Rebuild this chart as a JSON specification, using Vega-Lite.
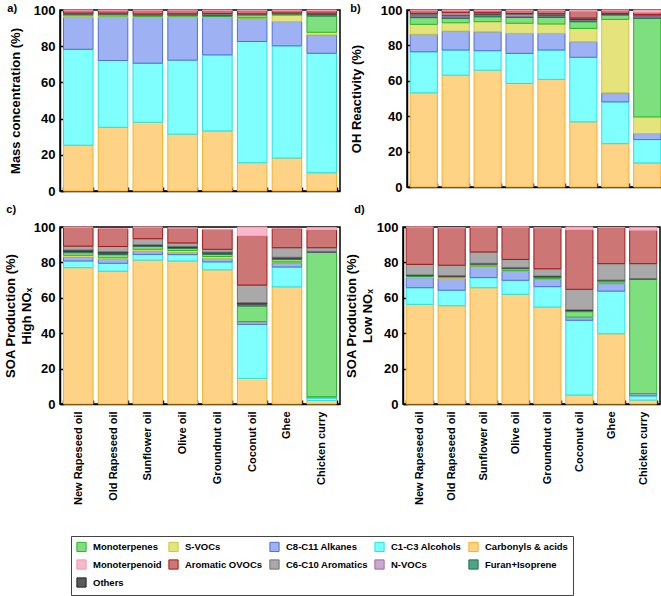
{
  "$schema": "https://vega.github.io/schema/vega-lite/v6.json",
  "padding": {"left": 3, "top": 2, "right": 2, "bottom": 2},
  "config": {
    "font": "Liberation Sans",
    "view": {"stroke": "black", "strokeWidth": 1.5},
    "axis": {
      "labelFont": "Liberation Sans", "labelFontWeight": "bold", "labelColor": "black", "labelFontSize": 13,
      "titleFont": "Liberation Sans", "titleFontWeight": "bold", "titleColor": "black", "titleFontSize": 13,
      "domainColor": "black", "domainWidth": 1.5, "tickColor": "black", "tickWidth": 1.5, "tickSize": -4,
      "grid": false
    },
    "axisY": {"labelPadding": 9, "titleLineHeight": 16},
    "title": {"font": "Liberation Sans", "fontSize": 11, "fontWeight": "bold", "anchor": "start", "frame": "bounds", "color": "black"},
    "legend": {
      "gridAlign": "each",
      "symbolType": "square", "symbolSize": 85, "symbolStrokeWidth": 1,
      "labelFont": "Liberation Sans", "labelFontSize": 9.5, "labelFontWeight": "bold", "labelColor": "black",
      "labelOffset": 6, "columnPadding": 4, "rowPadding": 3, "padding": 5,
      "strokeColor": "#444444", "strokeWidth": 1
    }
  },
  "datasets": {
    "a": [
      {"food":"New Rapeseed oil","group":"Carbonyls & acids","value":25.3},{"food":"New Rapeseed oil","group":"C1-C3 Alcohols","value":53.0},{"food":"New Rapeseed oil","group":"C8-C11 Alkanes","value":17.7},{"food":"New Rapeseed oil","group":"S-VOCs","value":0.8},{"food":"New Rapeseed oil","group":"Monoterpenes","value":0.8},{"food":"New Rapeseed oil","group":"Furan+Isoprene","value":0.3},{"food":"New Rapeseed oil","group":"N-VOCs","value":0.1},{"food":"New Rapeseed oil","group":"Others","value":0.1},{"food":"New Rapeseed oil","group":"C6-C10 Aromatics","value":0.2},{"food":"New Rapeseed oil","group":"Aromatic OVOCs","value":1.5},{"food":"New Rapeseed oil","group":"Monoterpenoid","value":0.2},
      {"food":"Old Rapeseed oil","group":"Carbonyls & acids","value":35.2},{"food":"Old Rapeseed oil","group":"C1-C3 Alcohols","value":36.9},{"food":"Old Rapeseed oil","group":"C8-C11 Alkanes","value":23.9},{"food":"Old Rapeseed oil","group":"S-VOCs","value":0.7},{"food":"Old Rapeseed oil","group":"Monoterpenes","value":0.9},{"food":"Old Rapeseed oil","group":"Furan+Isoprene","value":0.3},{"food":"Old Rapeseed oil","group":"N-VOCs","value":0.1},{"food":"Old Rapeseed oil","group":"Others","value":0.1},{"food":"Old Rapeseed oil","group":"C6-C10 Aromatics","value":0.2},{"food":"Old Rapeseed oil","group":"Aromatic OVOCs","value":1.5},{"food":"Old Rapeseed oil","group":"Monoterpenoid","value":0.2},
      {"food":"Sunflower oil","group":"Carbonyls & acids","value":38.0},{"food":"Sunflower oil","group":"C1-C3 Alcohols","value":32.6},{"food":"Sunflower oil","group":"C8-C11 Alkanes","value":25.4},{"food":"Sunflower oil","group":"S-VOCs","value":0.5},{"food":"Sunflower oil","group":"Monoterpenes","value":0.7},{"food":"Sunflower oil","group":"Furan+Isoprene","value":0.2},{"food":"Sunflower oil","group":"N-VOCs","value":0.1},{"food":"Sunflower oil","group":"Others","value":0.1},{"food":"Sunflower oil","group":"C6-C10 Aromatics","value":0.2},{"food":"Sunflower oil","group":"Aromatic OVOCs","value":2.0},{"food":"Sunflower oil","group":"Monoterpenoid","value":0.2},
      {"food":"Olive oil","group":"Carbonyls & acids","value":31.4},{"food":"Olive oil","group":"C1-C3 Alcohols","value":40.9},{"food":"Olive oil","group":"C8-C11 Alkanes","value":23.7},{"food":"Olive oil","group":"S-VOCs","value":0.6},{"food":"Olive oil","group":"Monoterpenes","value":0.6},{"food":"Olive oil","group":"Furan+Isoprene","value":0.2},{"food":"Olive oil","group":"N-VOCs","value":0.1},{"food":"Olive oil","group":"Others","value":0.1},{"food":"Olive oil","group":"C6-C10 Aromatics","value":0.3},{"food":"Olive oil","group":"Aromatic OVOCs","value":1.9},{"food":"Olive oil","group":"Monoterpenoid","value":0.2},
      {"food":"Groundnut oil","group":"Carbonyls & acids","value":33.2},{"food":"Groundnut oil","group":"C1-C3 Alcohols","value":42.0},{"food":"Groundnut oil","group":"C8-C11 Alkanes","value":20.8},{"food":"Groundnut oil","group":"S-VOCs","value":0.5},{"food":"Groundnut oil","group":"Monoterpenes","value":0.3},{"food":"Groundnut oil","group":"Furan+Isoprene","value":0.3},{"food":"Groundnut oil","group":"N-VOCs","value":0.2},{"food":"Groundnut oil","group":"Others","value":0.1},{"food":"Groundnut oil","group":"C6-C10 Aromatics","value":0.7},{"food":"Groundnut oil","group":"Aromatic OVOCs","value":1.5},{"food":"Groundnut oil","group":"Monoterpenoid","value":0.4},
      {"food":"Coconut oil","group":"Carbonyls & acids","value":15.6},{"food":"Coconut oil","group":"C1-C3 Alcohols","value":67.0},{"food":"Coconut oil","group":"C8-C11 Alkanes","value":12.8},{"food":"Coconut oil","group":"S-VOCs","value":0.3},{"food":"Coconut oil","group":"Monoterpenes","value":1.6},{"food":"Coconut oil","group":"Furan+Isoprene","value":0.2},{"food":"Coconut oil","group":"N-VOCs","value":0.1},{"food":"Coconut oil","group":"Others","value":0.1},{"food":"Coconut oil","group":"C6-C10 Aromatics","value":0.2},{"food":"Coconut oil","group":"Aromatic OVOCs","value":1.8},{"food":"Coconut oil","group":"Monoterpenoid","value":0.3},
      {"food":"Ghee","group":"Carbonyls & acids","value":18.2},{"food":"Ghee","group":"C1-C3 Alcohols","value":62.0},{"food":"Ghee","group":"C8-C11 Alkanes","value":13.4},{"food":"Ghee","group":"S-VOCs","value":3.6},{"food":"Ghee","group":"Monoterpenes","value":0.6},{"food":"Ghee","group":"Furan+Isoprene","value":0.2},{"food":"Ghee","group":"N-VOCs","value":0.1},{"food":"Ghee","group":"Others","value":0.1},{"food":"Ghee","group":"C6-C10 Aromatics","value":0.2},{"food":"Ghee","group":"Aromatic OVOCs","value":1.4},{"food":"Ghee","group":"Monoterpenoid","value":0.2},
      {"food":"Chicken curry","group":"Carbonyls & acids","value":10.1},{"food":"Chicken curry","group":"C1-C3 Alcohols","value":66.0},{"food":"Chicken curry","group":"C8-C11 Alkanes","value":10.1},{"food":"Chicken curry","group":"S-VOCs","value":1.5},{"food":"Chicken curry","group":"Monoterpenes","value":9.0},{"food":"Chicken curry","group":"Furan+Isoprene","value":0.6},{"food":"Chicken curry","group":"N-VOCs","value":0.4},{"food":"Chicken curry","group":"Others","value":0.1},{"food":"Chicken curry","group":"C6-C10 Aromatics","value":0.5},{"food":"Chicken curry","group":"Aromatic OVOCs","value":1.2},{"food":"Chicken curry","group":"Monoterpenoid","value":0.5}
    ],
    "b": [
      {"food":"New Rapeseed oil","group":"Carbonyls & acids","value":53.2},{"food":"New Rapeseed oil","group":"C1-C3 Alcohols","value":23.2},{"food":"New Rapeseed oil","group":"C8-C11 Alkanes","value":9.9},{"food":"New Rapeseed oil","group":"S-VOCs","value":5.6},{"food":"New Rapeseed oil","group":"Monoterpenes","value":3.8},{"food":"New Rapeseed oil","group":"Furan+Isoprene","value":0.8},{"food":"New Rapeseed oil","group":"N-VOCs","value":0.8},{"food":"New Rapeseed oil","group":"Others","value":0.2},{"food":"New Rapeseed oil","group":"C6-C10 Aromatics","value":0.6},{"food":"New Rapeseed oil","group":"Aromatic OVOCs","value":1.6},{"food":"New Rapeseed oil","group":"Monoterpenoid","value":0.3},
      {"food":"Old Rapeseed oil","group":"Carbonyls & acids","value":63.2},{"food":"Old Rapeseed oil","group":"C1-C3 Alcohols","value":14.2},{"food":"Old Rapeseed oil","group":"C8-C11 Alkanes","value":10.7},{"food":"Old Rapeseed oil","group":"S-VOCs","value":4.7},{"food":"Old Rapeseed oil","group":"Monoterpenes","value":2.5},{"food":"Old Rapeseed oil","group":"Furan+Isoprene","value":1.0},{"food":"Old Rapeseed oil","group":"N-VOCs","value":0.6},{"food":"Old Rapeseed oil","group":"Others","value":0.2},{"food":"Old Rapeseed oil","group":"C6-C10 Aromatics","value":1.4},{"food":"Old Rapeseed oil","group":"Aromatic OVOCs","value":1.3},{"food":"Old Rapeseed oil","group":"Monoterpenoid","value":0.2},
      {"food":"Sunflower oil","group":"Carbonyls & acids","value":66.0},{"food":"Sunflower oil","group":"C1-C3 Alcohols","value":11.0},{"food":"Sunflower oil","group":"C8-C11 Alkanes","value":10.7},{"food":"Sunflower oil","group":"S-VOCs","value":5.7},{"food":"Sunflower oil","group":"Monoterpenes","value":2.8},{"food":"Sunflower oil","group":"Furan+Isoprene","value":1.0},{"food":"Sunflower oil","group":"N-VOCs","value":0.5},{"food":"Sunflower oil","group":"Others","value":0.2},{"food":"Sunflower oil","group":"C6-C10 Aromatics","value":0.6},{"food":"Sunflower oil","group":"Aromatic OVOCs","value":1.2},{"food":"Sunflower oil","group":"Monoterpenoid","value":0.3},
      {"food":"Olive oil","group":"Carbonyls & acids","value":58.5},{"food":"Olive oil","group":"C1-C3 Alcohols","value":17.0},{"food":"Olive oil","group":"C8-C11 Alkanes","value":11.3},{"food":"Olive oil","group":"S-VOCs","value":5.7},{"food":"Olive oil","group":"Monoterpenes","value":3.3},{"food":"Olive oil","group":"Furan+Isoprene","value":0.6},{"food":"Olive oil","group":"N-VOCs","value":1.0},{"food":"Olive oil","group":"Others","value":0.1},{"food":"Olive oil","group":"C6-C10 Aromatics","value":0.5},{"food":"Olive oil","group":"Aromatic OVOCs","value":1.7},{"food":"Olive oil","group":"Monoterpenoid","value":0.3},
      {"food":"Groundnut oil","group":"Carbonyls & acids","value":60.8},{"food":"Groundnut oil","group":"C1-C3 Alcohols","value":16.6},{"food":"Groundnut oil","group":"C8-C11 Alkanes","value":9.4},{"food":"Groundnut oil","group":"S-VOCs","value":5.3},{"food":"Groundnut oil","group":"Monoterpenes","value":3.7},{"food":"Groundnut oil","group":"Furan+Isoprene","value":0.8},{"food":"Groundnut oil","group":"N-VOCs","value":0.6},{"food":"Groundnut oil","group":"Others","value":0.2},{"food":"Groundnut oil","group":"C6-C10 Aromatics","value":0.5},{"food":"Groundnut oil","group":"Aromatic OVOCs","value":1.8},{"food":"Groundnut oil","group":"Monoterpenoid","value":0.3},
      {"food":"Coconut oil","group":"Carbonyls & acids","value":36.8},{"food":"Coconut oil","group":"C1-C3 Alcohols","value":36.5},{"food":"Coconut oil","group":"C8-C11 Alkanes","value":8.8},{"food":"Coconut oil","group":"S-VOCs","value":7.5},{"food":"Coconut oil","group":"Monoterpenes","value":3.8},{"food":"Coconut oil","group":"Furan+Isoprene","value":0.9},{"food":"Coconut oil","group":"N-VOCs","value":0.4},{"food":"Coconut oil","group":"Others","value":0.3},{"food":"Coconut oil","group":"C6-C10 Aromatics","value":0.5},{"food":"Coconut oil","group":"Aromatic OVOCs","value":3.8},{"food":"Coconut oil","group":"Monoterpenoid","value":0.7},
      {"food":"Ghee","group":"Carbonyls & acids","value":24.5},{"food":"Ghee","group":"C1-C3 Alcohols","value":23.6},{"food":"Ghee","group":"C8-C11 Alkanes","value":5.1},{"food":"Ghee","group":"S-VOCs","value":41.5},{"food":"Ghee","group":"Monoterpenes","value":2.5},{"food":"Ghee","group":"Furan+Isoprene","value":0.3},{"food":"Ghee","group":"N-VOCs","value":0.2},{"food":"Ghee","group":"Others","value":0.1},{"food":"Ghee","group":"C6-C10 Aromatics","value":0.3},{"food":"Ghee","group":"Aromatic OVOCs","value":1.7},{"food":"Ghee","group":"Monoterpenoid","value":0.2},
      {"food":"Chicken curry","group":"Carbonyls & acids","value":13.6},{"food":"Chicken curry","group":"C1-C3 Alcohols","value":13.2},{"food":"Chicken curry","group":"C8-C11 Alkanes","value":3.4},{"food":"Chicken curry","group":"S-VOCs","value":9.4},{"food":"Chicken curry","group":"Monoterpenes","value":55.7},{"food":"Chicken curry","group":"Furan+Isoprene","value":0.9},{"food":"Chicken curry","group":"N-VOCs","value":0.6},{"food":"Chicken curry","group":"Others","value":0.2},{"food":"Chicken curry","group":"C6-C10 Aromatics","value":0.4},{"food":"Chicken curry","group":"Aromatic OVOCs","value":1.3},{"food":"Chicken curry","group":"Monoterpenoid","value":1.3}
    ],
    "c": [
      {"food":"New Rapeseed oil","group":"Carbonyls & acids","value":77.0},{"food":"New Rapeseed oil","group":"C1-C3 Alcohols","value":3.8},{"food":"New Rapeseed oil","group":"C8-C11 Alkanes","value":2.2},{"food":"New Rapeseed oil","group":"S-VOCs","value":1.0},{"food":"New Rapeseed oil","group":"Monoterpenes","value":1.5},{"food":"New Rapeseed oil","group":"Furan+Isoprene","value":0.5},{"food":"New Rapeseed oil","group":"N-VOCs","value":0.3},{"food":"New Rapeseed oil","group":"Others","value":0.7},{"food":"New Rapeseed oil","group":"C6-C10 Aromatics","value":2.2},{"food":"New Rapeseed oil","group":"Aromatic OVOCs","value":10.6},{"food":"New Rapeseed oil","group":"Monoterpenoid","value":0.2},
      {"food":"Old Rapeseed oil","group":"Carbonyls & acids","value":75.0},{"food":"Old Rapeseed oil","group":"C1-C3 Alcohols","value":4.5},{"food":"Old Rapeseed oil","group":"C8-C11 Alkanes","value":2.3},{"food":"Old Rapeseed oil","group":"S-VOCs","value":0.8},{"food":"Old Rapeseed oil","group":"Monoterpenes","value":1.8},{"food":"Old Rapeseed oil","group":"Furan+Isoprene","value":0.6},{"food":"Old Rapeseed oil","group":"N-VOCs","value":0.3},{"food":"Old Rapeseed oil","group":"Others","value":0.7},{"food":"Old Rapeseed oil","group":"C6-C10 Aromatics","value":3.0},{"food":"Old Rapeseed oil","group":"Aromatic OVOCs","value":10.0},{"food":"Old Rapeseed oil","group":"Monoterpenoid","value":0.1},
      {"food":"Sunflower oil","group":"Carbonyls & acids","value":81.3},{"food":"Sunflower oil","group":"C1-C3 Alcohols","value":3.2},{"food":"Sunflower oil","group":"C8-C11 Alkanes","value":1.9},{"food":"Sunflower oil","group":"S-VOCs","value":1.0},{"food":"Sunflower oil","group":"Monoterpenes","value":1.6},{"food":"Sunflower oil","group":"Furan+Isoprene","value":0.4},{"food":"Sunflower oil","group":"N-VOCs","value":0.2},{"food":"Sunflower oil","group":"Others","value":0.3},{"food":"Sunflower oil","group":"C6-C10 Aromatics","value":3.5},{"food":"Sunflower oil","group":"Aromatic OVOCs","value":6.4},{"food":"Sunflower oil","group":"Monoterpenoid","value":0.2},
      {"food":"Olive oil","group":"Carbonyls & acids","value":80.8},{"food":"Olive oil","group":"C1-C3 Alcohols","value":3.6},{"food":"Olive oil","group":"C8-C11 Alkanes","value":1.3},{"food":"Olive oil","group":"S-VOCs","value":1.0},{"food":"Olive oil","group":"Monoterpenes","value":1.3},{"food":"Olive oil","group":"Furan+Isoprene","value":0.4},{"food":"Olive oil","group":"N-VOCs","value":0.2},{"food":"Olive oil","group":"Others","value":0.4},{"food":"Olive oil","group":"C6-C10 Aromatics","value":2.0},{"food":"Olive oil","group":"Aromatic OVOCs","value":8.3},{"food":"Olive oil","group":"Monoterpenoid","value":0.2},
      {"food":"Groundnut oil","group":"Carbonyls & acids","value":75.8},{"food":"Groundnut oil","group":"C1-C3 Alcohols","value":4.5},{"food":"Groundnut oil","group":"C8-C11 Alkanes","value":2.0},{"food":"Groundnut oil","group":"S-VOCs","value":1.0},{"food":"Groundnut oil","group":"Monoterpenes","value":1.3},{"food":"Groundnut oil","group":"Furan+Isoprene","value":0.4},{"food":"Groundnut oil","group":"N-VOCs","value":0.3},{"food":"Groundnut oil","group":"Others","value":0.5},{"food":"Groundnut oil","group":"C6-C10 Aromatics","value":1.6},{"food":"Groundnut oil","group":"Aromatic OVOCs","value":11.2},{"food":"Groundnut oil","group":"Monoterpenoid","value":0.1},
      {"food":"Coconut oil","group":"Carbonyls & acids","value":14.5},{"food":"Coconut oil","group":"C1-C3 Alcohols","value":30.5},{"food":"Coconut oil","group":"C8-C11 Alkanes","value":1.4},{"food":"Coconut oil","group":"S-VOCs","value":0.2},{"food":"Coconut oil","group":"Monoterpenes","value":8.8},{"food":"Coconut oil","group":"Furan+Isoprene","value":0.8},{"food":"Coconut oil","group":"N-VOCs","value":0.3},{"food":"Coconut oil","group":"Others","value":0.7},{"food":"Coconut oil","group":"C6-C10 Aromatics","value":10.0},{"food":"Coconut oil","group":"Aromatic OVOCs","value":27.7},{"food":"Coconut oil","group":"Monoterpenoid","value":5.1},
      {"food":"Ghee","group":"Carbonyls & acids","value":66.2},{"food":"Ghee","group":"C1-C3 Alcohols","value":11.2},{"food":"Ghee","group":"C8-C11 Alkanes","value":2.3},{"food":"Ghee","group":"S-VOCs","value":0.5},{"food":"Ghee","group":"Monoterpenes","value":1.6},{"food":"Ghee","group":"Furan+Isoprene","value":0.4},{"food":"Ghee","group":"N-VOCs","value":0.2},{"food":"Ghee","group":"Others","value":0.5},{"food":"Ghee","group":"C6-C10 Aromatics","value":5.4},{"food":"Ghee","group":"Aromatic OVOCs","value":10.7},{"food":"Ghee","group":"Monoterpenoid","value":0.2},
      {"food":"Chicken curry","group":"Carbonyls & acids","value":2.0},{"food":"Chicken curry","group":"C1-C3 Alcohols","value":1.5},{"food":"Chicken curry","group":"C8-C11 Alkanes","value":0.5},{"food":"Chicken curry","group":"S-VOCs","value":0.1},{"food":"Chicken curry","group":"Monoterpenes","value":81.6},{"food":"Chicken curry","group":"Furan+Isoprene","value":0.2},{"food":"Chicken curry","group":"N-VOCs","value":0.1},{"food":"Chicken curry","group":"Others","value":0.2},{"food":"Chicken curry","group":"C6-C10 Aromatics","value":2.1},{"food":"Chicken curry","group":"Aromatic OVOCs","value":10.0},{"food":"Chicken curry","group":"Monoterpenoid","value":1.4}
    ],
    "d": [
      {"food":"New Rapeseed oil","group":"Carbonyls & acids","value":56.3},{"food":"New Rapeseed oil","group":"C1-C3 Alcohols","value":9.4},{"food":"New Rapeseed oil","group":"C8-C11 Alkanes","value":5.7},{"food":"New Rapeseed oil","group":"S-VOCs","value":0.6},{"food":"New Rapeseed oil","group":"Monoterpenes","value":0.4},{"food":"New Rapeseed oil","group":"Furan+Isoprene","value":0.2},{"food":"New Rapeseed oil","group":"N-VOCs","value":0.1},{"food":"New Rapeseed oil","group":"Others","value":0.2},{"food":"New Rapeseed oil","group":"C6-C10 Aromatics","value":6.0},{"food":"New Rapeseed oil","group":"Aromatic OVOCs","value":21.0},{"food":"New Rapeseed oil","group":"Monoterpenoid","value":0.1},
      {"food":"Old Rapeseed oil","group":"Carbonyls & acids","value":55.5},{"food":"Old Rapeseed oil","group":"C1-C3 Alcohols","value":8.8},{"food":"Old Rapeseed oil","group":"C8-C11 Alkanes","value":6.7},{"food":"Old Rapeseed oil","group":"S-VOCs","value":0.6},{"food":"Old Rapeseed oil","group":"Monoterpenes","value":0.5},{"food":"Old Rapeseed oil","group":"Furan+Isoprene","value":0.1},{"food":"Old Rapeseed oil","group":"N-VOCs","value":0.1},{"food":"Old Rapeseed oil","group":"Others","value":0.2},{"food":"Old Rapeseed oil","group":"C6-C10 Aromatics","value":5.9},{"food":"Old Rapeseed oil","group":"Aromatic OVOCs","value":21.0},{"food":"Old Rapeseed oil","group":"Monoterpenoid","value":0.2},
      {"food":"Sunflower oil","group":"Carbonyls & acids","value":65.7},{"food":"Sunflower oil","group":"C1-C3 Alcohols","value":5.7},{"food":"Sunflower oil","group":"C8-C11 Alkanes","value":6.4},{"food":"Sunflower oil","group":"S-VOCs","value":0.2},{"food":"Sunflower oil","group":"Monoterpenes","value":0.9},{"food":"Sunflower oil","group":"Furan+Isoprene","value":0.3},{"food":"Sunflower oil","group":"N-VOCs","value":0.1},{"food":"Sunflower oil","group":"Others","value":0.2},{"food":"Sunflower oil","group":"C6-C10 Aromatics","value":6.4},{"food":"Sunflower oil","group":"Aromatic OVOCs","value":14.0},{"food":"Sunflower oil","group":"Monoterpenoid","value":0.1},
      {"food":"Olive oil","group":"Carbonyls & acids","value":62.0},{"food":"Olive oil","group":"C1-C3 Alcohols","value":7.9},{"food":"Olive oil","group":"C8-C11 Alkanes","value":5.2},{"food":"Olive oil","group":"S-VOCs","value":0.4},{"food":"Olive oil","group":"Monoterpenes","value":1.0},{"food":"Olive oil","group":"Furan+Isoprene","value":0.3},{"food":"Olive oil","group":"N-VOCs","value":0.1},{"food":"Olive oil","group":"Others","value":0.2},{"food":"Olive oil","group":"C6-C10 Aromatics","value":4.6},{"food":"Olive oil","group":"Aromatic OVOCs","value":18.2},{"food":"Olive oil","group":"Monoterpenoid","value":0.1},
      {"food":"Groundnut oil","group":"Carbonyls & acids","value":54.8},{"food":"Groundnut oil","group":"C1-C3 Alcohols","value":11.5},{"food":"Groundnut oil","group":"C8-C11 Alkanes","value":4.3},{"food":"Groundnut oil","group":"S-VOCs","value":0.2},{"food":"Groundnut oil","group":"Monoterpenes","value":0.8},{"food":"Groundnut oil","group":"Furan+Isoprene","value":0.3},{"food":"Groundnut oil","group":"N-VOCs","value":0.1},{"food":"Groundnut oil","group":"Others","value":0.3},{"food":"Groundnut oil","group":"C6-C10 Aromatics","value":4.1},{"food":"Groundnut oil","group":"Aromatic OVOCs","value":23.0},{"food":"Groundnut oil","group":"Monoterpenoid","value":0.2},
      {"food":"Coconut oil","group":"Carbonyls & acids","value":5.1},{"food":"Coconut oil","group":"C1-C3 Alcohols","value":42.2},{"food":"Coconut oil","group":"C8-C11 Alkanes","value":1.5},{"food":"Coconut oil","group":"S-VOCs","value":0.3},{"food":"Coconut oil","group":"Monoterpenes","value":3.1},{"food":"Coconut oil","group":"Furan+Isoprene","value":0.3},{"food":"Coconut oil","group":"N-VOCs","value":0.3},{"food":"Coconut oil","group":"Others","value":0.4},{"food":"Coconut oil","group":"C6-C10 Aromatics","value":11.6},{"food":"Coconut oil","group":"Aromatic OVOCs","value":33.5},{"food":"Coconut oil","group":"Monoterpenoid","value":1.7},
      {"food":"Ghee","group":"Carbonyls & acids","value":39.7},{"food":"Ghee","group":"C1-C3 Alcohols","value":24.1},{"food":"Ghee","group":"C8-C11 Alkanes","value":4.2},{"food":"Ghee","group":"S-VOCs","value":0.3},{"food":"Ghee","group":"Monoterpenes","value":1.2},{"food":"Ghee","group":"Furan+Isoprene","value":0.3},{"food":"Ghee","group":"N-VOCs","value":0.1},{"food":"Ghee","group":"Others","value":0.1},{"food":"Ghee","group":"C6-C10 Aromatics","value":9.3},{"food":"Ghee","group":"Aromatic OVOCs","value":20.3},{"food":"Ghee","group":"Monoterpenoid","value":0.1},
      {"food":"Chicken curry","group":"Carbonyls & acids","value":2.2},{"food":"Chicken curry","group":"C1-C3 Alcohols","value":2.4},{"food":"Chicken curry","group":"C8-C11 Alkanes","value":1.2},{"food":"Chicken curry","group":"S-VOCs","value":0.1},{"food":"Chicken curry","group":"Monoterpenes","value":64.6},{"food":"Chicken curry","group":"Furan+Isoprene","value":0.2},{"food":"Chicken curry","group":"N-VOCs","value":0.1},{"food":"Chicken curry","group":"Others","value":0.1},{"food":"Chicken curry","group":"C6-C10 Aromatics","value":8.4},{"food":"Chicken curry","group":"Aromatic OVOCs","value":18.8},{"food":"Chicken curry","group":"Monoterpenoid","value":1.7}
    ]
  },
  "vconcat": [
    {
      "spacing": 8,
      "hconcat": [
        {
          "data": {"name": "a"},
          "transform": [{"calculate": "indexof(['Carbonyls & acids','C1-C3 Alcohols','C8-C11 Alkanes','S-VOCs','Monoterpenes','Furan+Isoprene','N-VOCs','Others','C6-C10 Aromatics','Aromatic OVOCs','Monoterpenoid'], datum.group)", "as": "stackOrder"}],
          "width": 280, "height": 181,
          "title": {"text": "a)", "offset": -10, "dx": -2},
          "mark": {"type": "bar", "strokeWidth": 1},
          "encoding": {
            "x": {"field": "food", "type": "nominal", "sort": ["New Rapeseed oil","Old Rapeseed oil","Sunflower oil","Olive oil","Groundnut oil","Coconut oil","Ghee","Chicken curry"], "scale": {"paddingInner": 0.15, "paddingOuter": 0.1}, "axis": {"title": null, "labels": false, "tickBand": "extent"}},
            "y": {"field": "value", "type": "quantitative", "stack": "zero", "scale": {"domain": [0, 100], "nice": false}, "axis": {"title": "Mass concentration (%)", "values": [0,20,40,60,80,100], "titlePadding": 11}},
            "order": {"field": "stackOrder", "type": "quantitative", "sort": "ascending"},
            "fill": {"field": "group", "type": "nominal", "scale": {"domain": ["Monoterpenes","S-VOCs","C8-C11 Alkanes","C1-C3 Alcohols","Carbonyls & acids","Monoterpenoid","Aromatic OVOCs","C6-C10 Aromatics","N-VOCs","Furan+Isoprene","Others"], "range": ["#7ddf7d","#e5e47c","#9db1f3","#80ffff","#ffd386","#f8b9ca","#cc7676","#a9a9a9","#cca6d0","#4ea585","#5a5a5a"]}, "legend": {"title": null, "orient": "none", "direction": "horizontal", "legendX": 11, "legendY": 526, "columns": 5}},
            "stroke": {"field": "group", "type": "nominal", "scale": {"domain": ["Monoterpenes","S-VOCs","C8-C11 Alkanes","C1-C3 Alcohols","Carbonyls & acids","Monoterpenoid","Aromatic OVOCs","C6-C10 Aromatics","N-VOCs","Furan+Isoprene","Others"], "range": ["#22bb22","#c9c83a","#4d6fe0","#1fe5e5","#ffae1f","#f296ae","#aa1515","#707070","#9c6ca6","#1f6f50","#222222"]}, "legend": {"title": null, "orient": "none", "direction": "horizontal", "legendX": 11, "legendY": 526, "columns": 5}}
          }
        },
        {
          "data": {"name": "b"},
          "transform": [{"calculate": "indexof(['Carbonyls & acids','C1-C3 Alcohols','C8-C11 Alkanes','S-VOCs','Monoterpenes','Furan+Isoprene','N-VOCs','Others','C6-C10 Aromatics','Aromatic OVOCs','Monoterpenoid'], datum.group)", "as": "stackOrder"}],
          "width": 257, "height": 177,
          "title": {"text": "b)", "offset": -10, "dx": 0},
          "mark": {"type": "bar", "strokeWidth": 1},
          "encoding": {
            "x": {"field": "food", "type": "nominal", "sort": ["New Rapeseed oil","Old Rapeseed oil","Sunflower oil","Olive oil","Groundnut oil","Coconut oil","Ghee","Chicken curry"], "scale": {"paddingInner": 0.15, "paddingOuter": 0.1}, "axis": {"title": null, "labels": false, "tickBand": "extent"}},
            "y": {"field": "value", "type": "quantitative", "stack": "zero", "scale": {"domain": [0, 100], "nice": false}, "axis": {"title": "OH Reactivity (%)", "values": [0,20,40,60,80,100], "titlePadding": 17}},
            "order": {"field": "stackOrder", "type": "quantitative", "sort": "ascending"},
            "fill": {"field": "group", "type": "nominal", "scale": {"domain": ["Monoterpenes","S-VOCs","C8-C11 Alkanes","C1-C3 Alcohols","Carbonyls & acids","Monoterpenoid","Aromatic OVOCs","C6-C10 Aromatics","N-VOCs","Furan+Isoprene","Others"], "range": ["#7ddf7d","#e5e47c","#9db1f3","#80ffff","#ffd386","#f8b9ca","#cc7676","#a9a9a9","#cca6d0","#4ea585","#5a5a5a"]}, "legend": {"title": null, "orient": "none", "direction": "horizontal", "legendX": 11, "legendY": 526, "columns": 5}},
            "stroke": {"field": "group", "type": "nominal", "scale": {"domain": ["Monoterpenes","S-VOCs","C8-C11 Alkanes","C1-C3 Alcohols","Carbonyls & acids","Monoterpenoid","Aromatic OVOCs","C6-C10 Aromatics","N-VOCs","Furan+Isoprene","Others"], "range": ["#22bb22","#c9c83a","#4d6fe0","#1fe5e5","#ffae1f","#f296ae","#aa1515","#707070","#9c6ca6","#1f6f50","#222222"]}, "legend": {"title": null, "orient": "none", "direction": "horizontal", "legendX": 11, "legendY": 526, "columns": 5}}
          }
        }
      ]
    },
    {
      "spacing": 3,
      "hconcat": [
        {
          "data": {"name": "c"},
          "transform": [{"calculate": "indexof(['Carbonyls & acids','C1-C3 Alcohols','C8-C11 Alkanes','S-VOCs','Monoterpenes','Furan+Isoprene','N-VOCs','Others','C6-C10 Aromatics','Aromatic OVOCs','Monoterpenoid'], datum.group)", "as": "stackOrder"}],
          "width": 280, "height": 177,
          "title": {"text": "c)", "offset": 6, "dx": 2},
          "mark": {"type": "bar", "strokeWidth": 1},
          "encoding": {
            "x": {"field": "food", "type": "nominal", "sort": ["New Rapeseed oil","Old Rapeseed oil","Sunflower oil","Olive oil","Groundnut oil","Coconut oil","Ghee","Chicken curry"], "scale": {"paddingInner": 0.15, "paddingOuter": 0.1}, "axis": {"title": null, "labelAngle": -90, "labelFontSize": 11, "labelPadding": 11, "tickBand": "extent"}},
            "y": {"field": "value", "type": "quantitative", "stack": "zero", "scale": {"domain": [0, 100], "nice": false}, "axis": {"title": ["SOA Production (%)", "High NOₓ"], "values": [0,20,40,60,80,100], "titlePadding": 0}},
            "order": {"field": "stackOrder", "type": "quantitative", "sort": "ascending"},
            "fill": {"field": "group", "type": "nominal", "scale": {"domain": ["Monoterpenes","S-VOCs","C8-C11 Alkanes","C1-C3 Alcohols","Carbonyls & acids","Monoterpenoid","Aromatic OVOCs","C6-C10 Aromatics","N-VOCs","Furan+Isoprene","Others"], "range": ["#7ddf7d","#e5e47c","#9db1f3","#80ffff","#ffd386","#f8b9ca","#cc7676","#a9a9a9","#cca6d0","#4ea585","#5a5a5a"]}, "legend": {"title": null, "orient": "none", "direction": "horizontal", "legendX": 11, "legendY": 526, "columns": 5}},
            "stroke": {"field": "group", "type": "nominal", "scale": {"domain": ["Monoterpenes","S-VOCs","C8-C11 Alkanes","C1-C3 Alcohols","Carbonyls & acids","Monoterpenoid","Aromatic OVOCs","C6-C10 Aromatics","N-VOCs","Furan+Isoprene","Others"], "range": ["#22bb22","#c9c83a","#4d6fe0","#1fe5e5","#ffae1f","#f296ae","#aa1515","#707070","#9c6ca6","#1f6f50","#222222"]}, "legend": {"title": null, "orient": "none", "direction": "horizontal", "legendX": 11, "legendY": 526, "columns": 5}}
          }
        },
        {
          "data": {"name": "d"},
          "transform": [{"calculate": "indexof(['Carbonyls & acids','C1-C3 Alcohols','C8-C11 Alkanes','S-VOCs','Monoterpenes','Furan+Isoprene','N-VOCs','Others','C6-C10 Aromatics','Aromatic OVOCs','Monoterpenoid'], datum.group)", "as": "stackOrder"}],
          "width": 257, "height": 177,
          "title": {"text": "d)", "offset": 6, "dx": 9},
          "mark": {"type": "bar", "strokeWidth": 1},
          "encoding": {
            "x": {"field": "food", "type": "nominal", "sort": ["New Rapeseed oil","Old Rapeseed oil","Sunflower oil","Olive oil","Groundnut oil","Coconut oil","Ghee","Chicken curry"], "scale": {"paddingInner": 0.15, "paddingOuter": 0.1}, "axis": {"title": null, "labelAngle": -90, "labelFontSize": 11, "labelPadding": 11, "tickBand": "extent"}},
            "y": {"field": "value", "type": "quantitative", "stack": "zero", "scale": {"domain": [0, 100], "nice": false}, "axis": {"title": ["SOA Production (%)", "Low NOₓ"], "values": [0,20,40,60,80,100], "titlePadding": 2}},
            "order": {"field": "stackOrder", "type": "quantitative", "sort": "ascending"},
            "fill": {"field": "group", "type": "nominal", "scale": {"domain": ["Monoterpenes","S-VOCs","C8-C11 Alkanes","C1-C3 Alcohols","Carbonyls & acids","Monoterpenoid","Aromatic OVOCs","C6-C10 Aromatics","N-VOCs","Furan+Isoprene","Others"], "range": ["#7ddf7d","#e5e47c","#9db1f3","#80ffff","#ffd386","#f8b9ca","#cc7676","#a9a9a9","#cca6d0","#4ea585","#5a5a5a"]}, "legend": {"title": null, "orient": "none", "direction": "horizontal", "legendX": 11, "legendY": 526, "columns": 5}},
            "stroke": {"field": "group", "type": "nominal", "scale": {"domain": ["Monoterpenes","S-VOCs","C8-C11 Alkanes","C1-C3 Alcohols","Carbonyls & acids","Monoterpenoid","Aromatic OVOCs","C6-C10 Aromatics","N-VOCs","Furan+Isoprene","Others"], "range": ["#22bb22","#c9c83a","#4d6fe0","#1fe5e5","#ffae1f","#f296ae","#aa1515","#707070","#9c6ca6","#1f6f50","#222222"]}, "legend": {"title": null, "orient": "none", "direction": "horizontal", "legendX": 11, "legendY": 526, "columns": 5}}
          }
        }
      ]
    }
  ],
  "spacing": 4
}
